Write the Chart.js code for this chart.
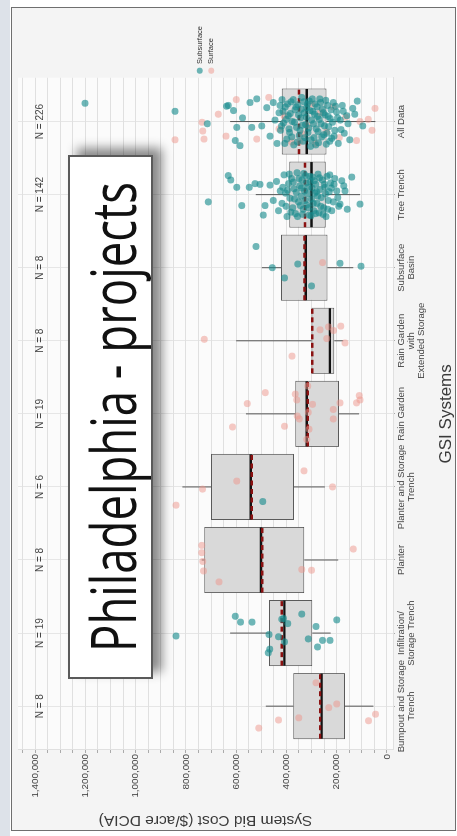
<!DOCTYPE html>
<html lang="en">
<head>
<meta charset="UTF-8">
<title>Philadelphia - projects</title>
<script src="https://cdn.jsdelivr.net/npm/chart.js"></script>
<style>
html, body { margin: 0; padding: 0; width: 457px; height: 836px; overflow: hidden; background: #ffffff; }
#strip { position: absolute; left: 0; top: 0; width: 10px; height: 836px; background: #dde2e9; }
#frame { position: absolute; left: 11px; top: 7px; width: 445px; height: 824px; border: 1px solid #6f6f6f; background: #f4f4f4; box-sizing: border-box; }
/* the chart is drawn landscape and turned a quarter turn, like the photographed slide */
#rot { position: absolute; left: 0; top: 0; width: 836px; height: 457px; transform-origin: 0 0; transform: translate(0px, 836px) rotate(-90deg); }
#chart { position: absolute; left: 0; top: 0; }
#note { position: absolute; left: 157px; top: 68px; width: 524px; height: 85px; box-sizing: border-box;
        border: 2px solid #5a5a5a; background: #ffffff; box-shadow: 7px 9px 10px rgba(0,0,0,0.45); overflow: hidden; }
#noteText { position: absolute; left: 25px; top: 12px; white-space: nowrap; font-family: "Open Sans", sans-serif;
            font-size: 61.6px; line-height: 61.6px; color: #111; transform-origin: 0 50%; }
</style>
</head>
<body>
<div id="strip"></div>
<div id="frame"></div>
<div id="rot">
  <canvas id="chart" width="836" height="457"></canvas>
  <div id="note"><span id="noteText">Philadelphia - projects</span></div>
</div>

<script>
// categories (bottom to top in the picture)
const categories = [
    ['Bumpout and Storage', 'Trench'],
    ['Infiltration/', 'Storage Trench'],
    ['Planter'],
    ['Planter and Storage', 'Trench'],
    ['Rain Garden'],
    ['Rain Garden', 'with', 'Extended Storage'],
    ['Subsurface', 'Basin'],
    ['Tree Trench'],
    ['All Data']
];
const counts = [8, 19, 8, 6, 19, 8, 8, 142, 226];

// box statistics, $/acre DCIA
const q1          = [167000, 297000, 329000, 370000, 191000, 209500, 237000, 244000, 241000];
const q3          = [372600, 469000, 726600, 700000, 364600, 300000, 421600, 388600, 418800];
const medians     = [260000, 408000, 501000, 542000, 319000, 227000, 323000, 300000, 319000];
const means       = [266000, 418800, 496000, 538000, 315000, 297000, 328000, 326000, 350000];
const whiskerLow  = [54000, 224000, 194000, 247000, 111000, 174000, 134000, 107000, 46000];
const whiskerHigh = [482000, 624000, 737000, 814000, 561000, 600000, 498000, 522000, 624000];

const valueLabels = [0, 200000, 400000, 600000, 800000, 1000000, 1200000, 1400000];

// jittered points: [cost, jitter (category units), 'sub' = Subsurface | 'srf' = Surface]
const ptsBumpout = [
    [510000, -0.30, 'srf'], [432000, -0.19, 'srf'], [351000, -0.16, 'srf'], [282000, 0.32, 'srf'],
    [232000, -0.02, 'srf'], [200000, 0.03, 'srf'], [73000, -0.20, 'srf'], [46000, -0.11, 'srf']
];
const ptsInfiltration = [
    [839000, -0.04, 'sub'], [604000, 0.23, 'sub'], [583000, 0.15, 'sub'], [537000, 0.15, 'sub'],
    [469000, -0.02, 'sub'], [466000, -0.22, 'sub'], [472000, -0.27, 'sub'], [432000, -0.05, 'sub'],
    [419000, 0.19, 'sub'], [412000, 0.20, 'sub'], [395000, 0.13, 'sub'], [408000, -0.12, 'sub'],
    [339000, 0.26, 'sub'], [282000, 0.09, 'sub'], [313000, -0.08, 'sub'], [276000, -0.19, 'sub'],
    [256000, -0.10, 'sub'], [227000, -0.10, 'sub'], [200000, 0.18, 'sub']
];
const ptsPlanter = [
    [737000, 0.20, 'srf'], [737000, 0.10, 'srf'], [733000, -0.02, 'srf'], [730000, -0.15, 'srf'],
    [668000, -0.30, 'srf'], [339000, -0.13, 'srf'], [300000, -0.14, 'srf'], [134000, 0.15, 'srf']
];
const ptsPlanterStorage = [
    [839000, -0.25, 'srf'], [734000, -0.03, 'srf'], [598000, 0.08, 'srf'],
    [494000, -0.20, 'sub'], [330000, 0.22, 'srf'], [217000, 0.00, 'srf']
];
const ptsRainGarden = [
    [615000, -0.18, 'srf'], [556000, 0.14, 'srf'], [484000, 0.29, 'srf'], [408000, -0.17, 'srf'],
    [365000, 0.27, 'srf'], [359000, 0.19, 'srf'], [357000, -0.03, 'srf'], [349000, -0.07, 'srf'],
    [315000, 0.38, 'srf'], [313000, 0.02, 'srf'], [310000, -0.21, 'srf'], [319000, -0.35, 'srf'],
    [296000, 0.13, 'srf'], [214000, -0.07, 'srf'], [214000, 0.06, 'srf'], [187000, 0.15, 'srf'],
    [121000, 0.15, 'srf'], [110000, 0.25, 'srf'], [107000, 0.19, 'srf']
];
const ptsRainGardenExt = [
    [727000, 0.02, 'srf'], [378000, -0.21, 'srf'], [266000, 0.15, 'srf'], [240000, 0.03, 'srf'],
    [233000, 0.19, 'srf'], [213000, 0.14, 'srf'], [184000, 0.20, 'srf'], [167000, -0.03, 'srf']
];
const ptsSubsurfaceBasin = [
    [521000, 0.29, 'sub'], [456000, 0.00, 'sub'], [408000, -0.14, 'sub'], [355000, 0.05, 'sub'],
    [300000, -0.25, 'sub'], [256000, 0.07, 'srf'], [187000, 0.06, 'sub'], [103000, 0.02, 'sub']
];
const ptsTreeTrench = [
    [711000, -0.10, 'sub'], [631000, 0.26, 'sub'], [622000, 0.20, 'sub'], [598000, 0.10, 'sub'],
    [578000, -0.15, 'sub'], [548000, 0.10, 'sub'], [525000, 0.15, 'sub'], [505000, 0.14, 'sub'],
    [492000, -0.28, 'sub'], [485000, -0.15, 'sub'], [465000, 0.13, 'sub'], [452000, -0.08, 'sub'],
    [440000, 0.18, 'sub'], [432000, -0.22, 'sub'], [425000, 0.05, 'sub'], [418000, -0.12, 'sub'],
    [410000, 0.27, 'sub'], [404000, 0.02, 'sub'], [398000, -0.30, 'sub'], [392000, 0.15, 'sub'],
    [386000, -0.05, 'sub'], [380000, 0.22, 'sub'], [375000, -0.18, 'sub'], [370000, 0.08, 'sub'],
    [364000, -0.26, 'sub'], [358000, 0.30, 'sub'], [352000, -0.10, 'sub'], [347000, 0.12, 'sub'],
    [342000, -0.02, 'sub'], [338000, 0.20, 'sub'], [333000, -0.20, 'sub'], [328000, 0.05, 'sub'],
    [324000, 0.26, 'sub'], [319000, -0.14, 'sub'], [314000, 0.10, 'sub'], [310000, -0.28, 'sub'],
    [305000, 0.18, 'sub'], [300000, -0.06, 'sub'], [296000, 0.24, 'sub'], [291000, -0.22, 'sub'],
    [287000, 0.02, 'sub'], [283000, 0.14, 'sub'], [278000, -0.12, 'sub'], [274000, 0.28, 'sub'],
    [270000, -0.25, 'sub'], [266000, 0.07, 'sub'], [261000, -0.04, 'sub'], [257000, 0.20, 'sub'],
    [252000, -0.18, 'sub'], [248000, 0.10, 'sub'], [243000, -0.30, 'sub'], [239000, 0.25, 'sub'],
    [234000, -0.08, 'sub'], [230000, 0.04, 'sub'], [225000, 0.16, 'sub'], [220000, -0.22, 'sub'],
    [214000, -0.10, 'sub'], [208000, 0.22, 'sub'], [200000, 0.05, 'sub'], [192000, -0.16, 'sub'],
    [187000, -0.13, 'sub'], [180000, 0.19, 'sub'], [172000, 0.12, 'sub'], [167000, 0.05, 'sub'],
    [158000, -0.20, 'sub'], [140000, 0.24, 'sub'], [107000, -0.13, 'sub'],
    [415000, 0.10, 'sub'], [402000, -0.16, 'sub'], [396000, 0.06, 'sub'], [389000, 0.28, 'sub'],
    [383000, -0.24, 'sub'], [373000, 0.17, 'sub'], [368000, -0.06, 'sub'], [361000, 0.03, 'sub'],
    [356000, -0.30, 'sub'], [350000, 0.22, 'sub'], [345000, -0.15, 'sub'], [340000, 0.09, 'sub'],
    [336000, -0.27, 'sub'], [331000, 0.29, 'sub'], [326000, -0.08, 'sub'], [321000, 0.16, 'sub'],
    [317000, 0.01, 'sub'], [312000, -0.18, 'sub'], [307000, 0.25, 'sub'], [302000, -0.29, 'sub'],
    [298000, 0.09, 'sub'], [293000, -0.12, 'sub'], [289000, 0.19, 'sub'], [284000, -0.26, 'sub'],
    [280000, 0.04, 'sub'], [276000, -0.02, 'sub'], [268000, 0.23, 'sub'], [263000, -0.16, 'sub'],
    [255000, -0.27, 'sub'], [250000, 0.14, 'sub'], [245000, 0.01, 'sub'], [236000, -0.20, 'sub'],
    [228000, 0.27, 'sub'], [222000, 0.09, 'sub'], [211000, 0.14, 'sub'], [196000, -0.04, 'sub']
];
const ptsAllData = [
    [1201000, 0.25, 'sub'], [843000, 0.14, 'sub'], [715000, -0.03, 'sub'], [638000, 0.21, 'sub'],
    [631000, 0.22, 'sub'], [611000, 0.15, 'sub'], [604000, -0.26, 'sub'], [598000, -0.08, 'sub'],
    [585000, -0.33, 'sub'], [575000, 0.05, 'sub'], [545000, 0.26, 'sub'], [538000, -0.08, 'sub'],
    [518000, 0.31, 'sub'], [498000, -0.06, 'sub'], [478000, 0.19, 'sub'], [465000, -0.20, 'sub'],
    [452000, 0.26, 'sub'], [445000, 0.02, 'sub'], [438000, -0.30, 'sub'], [430000, 0.12, 'sub'],
    [424000, -0.12, 'sub'], [418000, 0.30, 'sub'], [412000, -0.02, 'sub'], [405000, 0.20, 'sub'],
    [399000, -0.24, 'sub'], [393000, 0.08, 'sub'], [388000, -0.15, 'sub'], [382000, 0.27, 'sub'],
    [377000, 0.00, 'sub'], [371000, -0.32, 'sub'], [366000, 0.16, 'sub'], [360000, -0.08, 'sub'],
    [355000, 0.23, 'sub'], [349000, -0.19, 'sub'], [344000, 0.05, 'sub'], [339000, 0.33, 'sub'],
    [334000, -0.27, 'sub'], [329000, 0.12, 'sub'], [324000, -0.04, 'sub'], [319000, 0.19, 'sub'],
    [314000, -0.15, 'sub'], [309000, 0.28, 'sub'], [304000, -0.34, 'sub'], [300000, 0.02, 'sub'],
    [295000, 0.14, 'sub'], [290000, -0.22, 'sub'], [286000, 0.24, 'sub'], [281000, -0.10, 'sub'],
    [276000, 0.07, 'sub'], [272000, -0.29, 'sub'], [267000, 0.31, 'sub'], [262000, -0.03, 'sub'],
    [257000, 0.17, 'sub'], [252000, -0.18, 'sub'], [247000, 0.09, 'sub'], [242000, -0.31, 'sub'],
    [237000, 0.22, 'sub'], [232000, -0.07, 'sub'], [226000, 0.04, 'sub'], [220000, -0.23, 'sub'],
    [214000, 0.26, 'sub'], [208000, -0.12, 'sub'], [201000, 0.13, 'sub'], [194000, -0.30, 'sub'],
    [186000, 0.02, 'sub'], [178000, 0.22, 'sub'], [170000, -0.16, 'sub'], [160000, 0.08, 'sub'],
    [148000, -0.25, 'sub'], [136000, 0.18, 'sub'], [118000, 0.28, 'sub'], [96000, -0.06, 'sub'],
    [426000, 0.22, 'sub'], [420000, -0.06, 'sub'], [414000, 0.14, 'sub'], [407000, -0.30, 'sub'],
    [401000, 0.03, 'sub'], [396000, 0.24, 'sub'], [390000, -0.10, 'sub'], [385000, 0.11, 'sub'],
    [379000, -0.21, 'sub'], [373000, 0.30, 'sub'], [368000, -0.01, 'sub'], [362000, 0.20, 'sub'],
    [357000, -0.28, 'sub'], [352000, 0.09, 'sub'], [346000, -0.12, 'sub'], [341000, 0.17, 'sub'],
    [336000, -0.05, 'sub'], [331000, 0.27, 'sub'], [326000, -0.22, 'sub'], [321000, 0.06, 'sub'],
    [316000, 0.24, 'sub'], [311000, -0.09, 'sub'], [306000, 0.15, 'sub'], [302000, -0.25, 'sub'],
    [297000, 0.31, 'sub'], [292000, -0.03, 'sub'], [288000, 0.10, 'sub'], [283000, -0.32, 'sub'],
    [278000, 0.20, 'sub'], [274000, -0.14, 'sub'], [269000, 0.03, 'sub'], [264000, 0.26, 'sub'],
    [259000, -0.21, 'sub'], [254000, 0.12, 'sub'], [249000, -0.06, 'sub'], [244000, 0.29, 'sub'],
    [239000, -0.16, 'sub'], [234000, 0.07, 'sub'], [228000, -0.27, 'sub'], [223000, 0.16, 'sub'],
    [217000, -0.01, 'sub'], [211000, -0.20, 'sub'], [205000, 0.21, 'sub'], [197000, 0.05, 'sub'],
    [183000, -0.11, 'sub'], [174000, 0.14, 'sub'], [155000, -0.03, 'sub'], [128000, 0.10, 'sub'],
    [843000, -0.25, 'srf'], [736000, -0.01, 'srf'], [733000, -0.13, 'srf'], [728000, -0.24, 'srf'],
    [671000, 0.10, 'srf'], [640000, -0.20, 'srf'], [600000, 0.30, 'srf'], [518000, -0.24, 'srf'],
    [470000, 0.33, 'srf'], [430000, -0.10, 'srf'], [410000, 0.08, 'srf'], [380000, -0.28, 'srf'],
    [347000, -0.27, 'srf'], [335000, -0.17, 'srf'], [318000, -0.05, 'srf'], [300000, 0.24, 'srf'],
    [285000, -0.30, 'srf'], [265000, 0.12, 'srf'], [240000, -0.14, 'srf'], [215000, 0.20, 'srf'],
    [190000, -0.22, 'srf'], [165000, 0.06, 'srf'], [121000, -0.26, 'srf'], [107000, 0.00, 'srf'],
    [74000, 0.03, 'srf'], [48000, 0.18, 'srf'], [60000, -0.12, 'srf']
];
const pointGroups = [ptsBumpout, ptsInfiltration, ptsPlanter, ptsPlanterStorage, ptsRainGarden,
                     ptsRainGardenExt, ptsSubsurfaceBasin, ptsTreeTrench, ptsAllData];

// ---- build datasets ----
const subsurfacePts = [];
const surfacePts = [];
pointGroups.forEach((grp, i) => {
    grp.forEach(([v, j, kind]) => {
        (kind === 'sub' ? subsurfacePts : surfacePts).push({ x: i + j, y: v });
    });
});

const FONT = "'Liberation Sans', Arial, sans-serif";
Chart.defaults.font.family = FONT;
Chart.defaults.color = '#444';

// whiskers, median, mean, N = labels and the panel fill
const boxExtras = {
    id: 'boxExtras',
    beforeDraw(chart) {
        const a = chart.chartArea, ctx = chart.ctx;
        ctx.save();
        ctx.fillStyle = '#fbfbfb';
        ctx.fillRect(a.left, a.top, a.right - a.left, a.bottom - a.top);
        ctx.restore();
    },
    afterDatasetDraw(chart, args) {
        if (args.index !== 0) return;
        const ctx = chart.ctx, ys = chart.scales.y;
        ctx.save();
        args.meta.data.forEach((bar, i) => {
            const x = bar.x, half = bar.width / 2 - 0.5;
            ctx.strokeStyle = '#555';
            ctx.lineWidth = 1;
            ctx.setLineDash([]);
            ctx.beginPath();
            ctx.moveTo(x, ys.getPixelForValue(q3[i]));
            ctx.lineTo(x, ys.getPixelForValue(whiskerHigh[i]));
            ctx.moveTo(x, ys.getPixelForValue(q1[i]));
            ctx.lineTo(x, ys.getPixelForValue(whiskerLow[i]));
            ctx.stroke();

            const yMed = ys.getPixelForValue(medians[i]);
            ctx.strokeStyle = '#111';
            ctx.lineWidth = 2.4;
            ctx.beginPath();
            ctx.moveTo(x - half, yMed);
            ctx.lineTo(x + half, yMed);
            ctx.stroke();

            const yMean = ys.getPixelForValue(means[i]);
            ctx.strokeStyle = '#8b1212';
            ctx.setLineDash([5, 3.5]);
            ctx.beginPath();
            ctx.moveTo(x - half, yMean);
            ctx.lineTo(x + half, yMean);
            ctx.stroke();
        });
        ctx.restore();
    },
    afterDatasetsDraw(chart) {
        const ctx = chart.ctx, xs = chart.scales.x, ys = chart.scales.y;
        ctx.save();
        ctx.font = '10px ' + FONT;
        ctx.fillStyle = '#444';
        ctx.textAlign = 'center';
        ctx.textBaseline = 'middle';
        counts.forEach((n, i) => {
            ctx.fillText('N = ' + n, xs.getPixelForValue(i), ys.getPixelForValue(1378000));
        });
        ctx.restore();
    }
};

new Chart(document.getElementById('chart'), {
    type: 'bar',
    data: {
        datasets: [
            {
                type: 'bar',
                label: 'box',
                data: q1.map((v, i) => ({ x: i, y: [v, q3[i]] })),
                backgroundColor: '#d9d9d9',
                borderColor: '#5a5a5a',
                borderWidth: 1,
                borderSkipped: false,
                barPercentage: 0.905,
                categoryPercentage: 1,
                order: 2
            },
            {
                type: 'scatter',
                label: 'Subsurface',
                data: subsurfacePts,
                backgroundColor: 'rgba(22,138,140,0.62)',
                borderWidth: 0,
                pointRadius: 3.5,
                pointStyle: 'circle',
                order: 1
            },
            {
                type: 'scatter',
                label: 'Surface',
                data: surfacePts,
                backgroundColor: 'rgba(238,150,140,0.5)',
                borderWidth: 0,
                pointRadius: 3.5,
                pointStyle: 'circle',
                order: 1
            }
        ]
    },
    options: {
        responsive: false,
        animation: false,
        events: [],
        layout: { padding: { top: 18, right: 16, bottom: 0, left: 0 } },
        plugins: {
            tooltip: { enabled: false },
            legend: {
                position: 'right',
                fullSize: false,
                labels: {
                    usePointStyle: true,
                    pointStyle: 'circle',
                    boxWidth: 6,
                    boxHeight: 4.3,
                    padding: 4,
                    color: '#333',
                    font: { size: 7.5 },
                    filter: item => item.datasetIndex > 0
                }
            }
        },
        scales: {
            x: {
                type: 'linear',
                min: -0.6,
                max: 8.6,
                offset: false,
                afterBuildTicks: s => { s.ticks = categories.map((c, i) => ({ value: i })); },
                afterFit: s => { s.height = 64; },
                grid: { offset: false, color: '#e6e6e6', tickLength: 2, tickColor: '#aaa' },
                border: { color: '#e0e0e0' },
                ticks: {
                    autoSkip: false,
                    maxRotation: 0,
                    minRotation: 0,
                    padding: 1,
                    color: '#444',
                    font: { size: 9.5, lineHeight: 1.08 },
                    callback: v => categories[v]
                },
                title: { display: true, text: 'GSI Systems', color: '#3a3a3a', font: { size: 17 }, padding: 0 }
            },
            y: {
                min: -24000,
                max: 1468000,
                afterBuildTicks: s => {
                    const t = [];
                    for (let v = 0; v <= 1450000; v += 50000) t.push({ value: v });
                    s.ticks = t;
                },
                afterFit: s => { s.width = 86; },
                grid: { color: '#e0e0e0', tickLength: 3, tickColor: '#aaa' },
                border: { color: '#e0e0e0' },
                ticks: {
                    autoSkip: false,
                    padding: 1,
                    color: '#444',
                    font: { size: 9.8 },
                    callback: v => valueLabels.includes(v) ? v.toLocaleString('en-US') : ''
                },
                title: {
                    display: true,
                    text: 'System Bid Cost ($/acre DCIA)',
                    color: '#3a3a3a',
                    font: { size: 15.5 },
                    padding: { top: 6, bottom: 0 }
                }
            }
        }
    },
    plugins: [boxExtras]
});

// squeeze the slide caption to the width it has in the photo
const noteText = document.getElementById('noteText');
noteText.style.transform = 'scaleX(' + (470 / noteText.offsetWidth) + ')';
</script>
</body>
</html>
